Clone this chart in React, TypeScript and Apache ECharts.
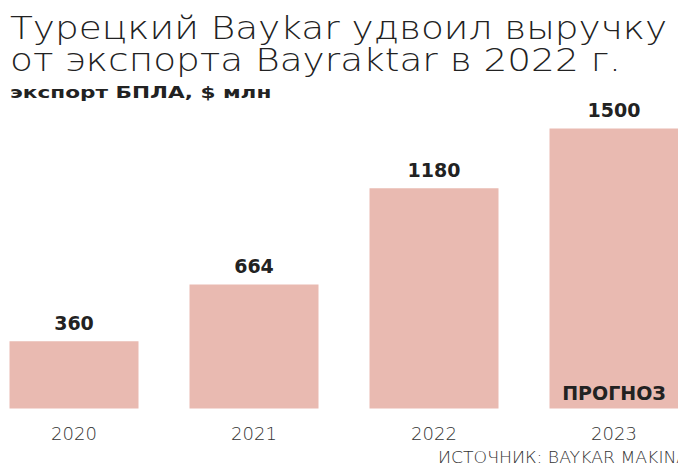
import React, { useEffect, useRef } from "react";
import * as echarts from "echarts";

const categories = ["2020", "2021", "2022", "2023"];
const values = [360, 664, 1180, 1500];
const forecastLabel = "ПРОГНОЗ";
const titleLines = ["Турецкий Baykar удвоил выручку", "от экспорта Bayraktar в 2022 г."];
const subtitle = "экспорт БПЛА, $ млн";
const source = "ИСТОЧНИК: BAYKAR MAKINA";

const LIGHT = "'DejaVu Sans', 'Open Sans', sans-serif";
const BOLD = "'DejaVu Sans', 'Open Sans', sans-serif";
const OFFSET = 16;

export default function App() {
  const ref = useRef<HTMLDivElement>(null);
  useEffect(() => {
    document.body.style.margin = "0";
    const chart = echarts.init(ref.current!, null, { renderer: "svg" });
    chart.setOption({
      animation: false,
      backgroundColor: "#ffffff",
      grid: { left: 0, right: 0, top: 100.5, bottom: 56.5, containLabel: false },
      xAxis: {
        type: "category",
        data: categories,
        axisLine: { show: false },
        axisTick: { show: false },
        axisLabel: {
          color: "#333",
          fontFamily: LIGHT,
          fontWeight: 200,
          fontSize: 18,
          margin: 16,
        },
      },
      yAxis: {
        type: "value",
        min: 0,
        max: 1650,
        show: false,
        splitLine: { show: false },
      },
      graphic: [
        {
          type: "text",
          left: OFFSET + 10,
          top: 12,
          scaleX: 1.17,
          style: {
            text: titleLines[0],
            fontFamily: LIGHT,
            fontWeight: 200,
            fontSize: 32,
            lineHeight: 32,
            fill: "#222",
          },
        },
        {
          type: "text",
          left: OFFSET + 10,
          top: 44,
          scaleX: 1.17,
          style: {
            text: titleLines[1],
            fontFamily: LIGHT,
            fontWeight: 200,
            fontSize: 32,
            lineHeight: 32,
            fill: "#222",
          },
        },
        {
          type: "text",
          left: OFFSET + 10,
          top: 84,
          scaleX: 1.35,
          style: {
            text: subtitle,
            fontFamily: BOLD,
            fontWeight: 700,
            fontSize: 16,
            fill: "#222",
          },
        },
        {
          type: "text",
          left: OFFSET + 438,
          top: 450,
          scaleX: 1.15,
          style: {
            text: source,
            fontFamily: LIGHT,
            fontWeight: 200,
            fontSize: 15,
            fill: "#333",
          },
        },
      ],
      series: [
        {
          type: "bar",
          data: values,
          barWidth: 129,
          barGap: "-100%",
          itemStyle: { color: "#e9bab1" },
          label: {
            show: true,
            position: "top",
            distance: 9,
            color: "#222",
            fontFamily: BOLD,
            fontWeight: 700,
            fontSize: 19,
          },
        },
        {
          type: "bar",
          data: values.map((v, i) =>
            i === values.length - 1
              ? {
                  value: v,
                  label: {
                    show: true,
                    position: "insideBottom",
                    distance: 6,
                    formatter: forecastLabel,
                  },
                }
              : null
          ),
          barWidth: 129,
          barGap: "-100%",
          itemStyle: { color: "rgba(0,0,0,0)" },
          label: {
            show: false,
            color: "#222",
            fontFamily: BOLD,
            fontWeight: 700,
            fontSize: 19,
          },
          silent: true,
        },
      ],
    });
    return () => chart.dispose();
  }, []);
  return (
    <div style={{ position: "relative", width: 678, height: 465, overflow: "hidden" }}>
      <div
        ref={ref}
        style={{ position: "absolute", left: -OFFSET, top: 0, width: 720, height: 465 }}
      />
    </div>
  );
}
